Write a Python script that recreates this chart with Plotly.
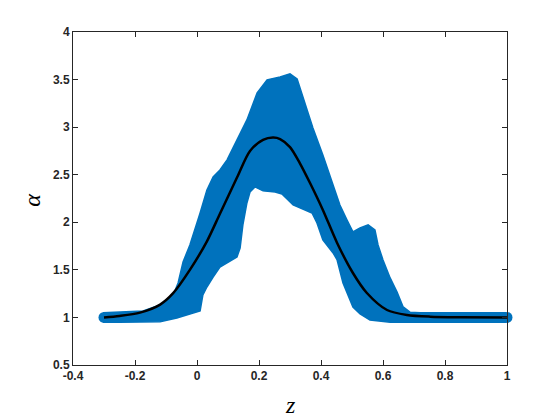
import plotly.graph_objects as go

# Envelope of the scattered ensemble (outer boundary of the blue band)
z_upper = [-0.303, -0.25, -0.174, -0.119, -0.094, -0.077, -0.061, -0.045, -0.023, 0.010, 0.032,
           0.052, 0.074, 0.097, 0.129, 0.161, 0.194, 0.226, 0.268, 0.300, 0.323,
           0.342, 0.358, 0.374, 0.406, 0.439, 0.461, 0.484, 0.503, 0.526, 0.552,
           0.574, 0.584, 0.600, 0.623, 0.645, 0.665, 0.687, 0.72, 0.85, 0.995]
a_upper = [1.05, 1.055, 1.068, 1.131, 1.183, 1.236, 1.362, 1.583, 1.762, 2.098, 2.340,
           2.477, 2.550, 2.656, 2.866, 3.076, 3.360, 3.497, 3.528, 3.560, 3.507,
           3.318, 3.160, 2.992, 2.708, 2.393, 2.182, 2.024, 1.899, 1.941, 1.972,
           1.919, 1.762, 1.604, 1.415, 1.268, 1.110, 1.055, 1.05, 1.05, 1.05]

z_lower = [-0.303, -0.25, -0.19, -0.119, -0.065, -0.023, 0.010, 0.019, 0.032, 0.052, 0.074, 0.106,
           0.129, 0.139, 0.148, 0.161, 0.171, 0.187, 0.213, 0.252, 0.274, 0.310,
           0.348, 0.371, 0.387, 0.406, 0.439, 0.452, 0.471, 0.503, 0.526, 0.558,
           0.623, 0.72, 0.85, 0.995]
a_lower = [0.95, 0.95, 0.95, 0.955, 0.994, 1.036, 1.068, 1.236, 1.320, 1.425, 1.530, 1.594,
           1.636, 1.730, 1.972, 2.203, 2.319, 2.372, 2.330, 2.319, 2.298, 2.182,
           2.130, 2.098, 1.993, 1.814, 1.678, 1.604, 1.362, 1.110, 1.036, 0.973,
           0.95, 0.95, 0.95, 0.95]

# Mean (fitted) curve
z_line = [-0.300, -0.250, -0.184, -0.119, -0.077, -0.023, 0.032, 0.074, 0.129, 0.171, 0.213,
          0.245, 0.268, 0.300, 0.332, 0.365, 0.406, 0.452, 0.503, 0.548, 0.613,
          0.677, 0.752, 0.850, 1.000]
a_line = [1.0, 1.015, 1.05, 1.135, 1.255, 1.50, 1.80, 2.09, 2.47, 2.75, 2.865,
          2.89, 2.875, 2.79, 2.62, 2.41, 2.13, 1.783, 1.467, 1.257, 1.078,
          1.026, 1.008, 1.002, 1.0]

x_ticks = [-0.4, -0.2, 0, 0.2, 0.4, 0.6, 0.8, 1]
x_labels = ["-0.4", "-0.2", "0", "0.2", "0.4", "0.6", "0.8", "1"]
y_ticks = [0.5, 1, 1.5, 2, 2.5, 3, 3.5, 4]
y_labels = ["0.5", "1", "1.5", "2", "2.5", "3", "3.5", "4"]

BLUE = "#0072BD"
AX = "#262626"

fig = go.Figure()

fig.add_trace(go.Scatter(
    x=z_upper + z_lower[::-1],
    y=a_upper + a_lower[::-1],
    mode="lines", fill="toself", fillcolor=BLUE,
    line=dict(color=BLUE, width=1.5),
    hoverinfo="skip", showlegend=False,
))

fig.add_trace(go.Scatter(
    x=[z_line[0], z_line[-1]], y=[a_line[0], a_line[-1]],
    mode="markers", cliponaxis=False,
    marker=dict(symbol="circle", size=11, color=BLUE, line=dict(width=0)),
    hoverinfo="skip", showlegend=False,
))

fig.add_trace(go.Scatter(
    x=z_line, y=a_line, mode="lines",
    line=dict(color="black", width=2.5, shape="spline", smoothing=0.8),
    showlegend=False,
))

axis_common = dict(
    showline=True, linecolor=AX, linewidth=1, mirror="ticks",
    ticks="inside", ticklen=5, tickwidth=1, tickcolor=AX,
    showgrid=False, zeroline=False,
    tickfont=dict(family="Liberation Sans, Arial", size=12, color=AX),
)

fig.update_layout(
    width=552, height=412,
    margin=dict(l=65, r=53, t=24, b=55),
    paper_bgcolor="white", plot_bgcolor="white",
    xaxis=dict(range=[-0.4, 1], tickvals=x_ticks, ticktext=[f"<b>{t}</b>" for t in x_labels],
               **axis_common),
    yaxis=dict(range=[0.5, 4], tickvals=y_ticks, ticktext=[f"<b>{t}</b>" for t in y_labels],
               **axis_common),
    annotations=[
        dict(text="<i>z</i>", xref="paper", yref="paper", x=0.5, y=-0.12,
             showarrow=False, xanchor="center", yanchor="middle",
             font=dict(family="Liberation Serif, Times New Roman", size=24, color="black")),
        dict(text="<i>α</i>", xref="paper", yref="paper", x=-0.093, y=0.495,
             showarrow=False, xanchor="center", yanchor="middle", textangle=-90,
             font=dict(family="Liberation Serif, Times New Roman", size=24, color="black")),
    ],
)

fig.write_html("out.html")
